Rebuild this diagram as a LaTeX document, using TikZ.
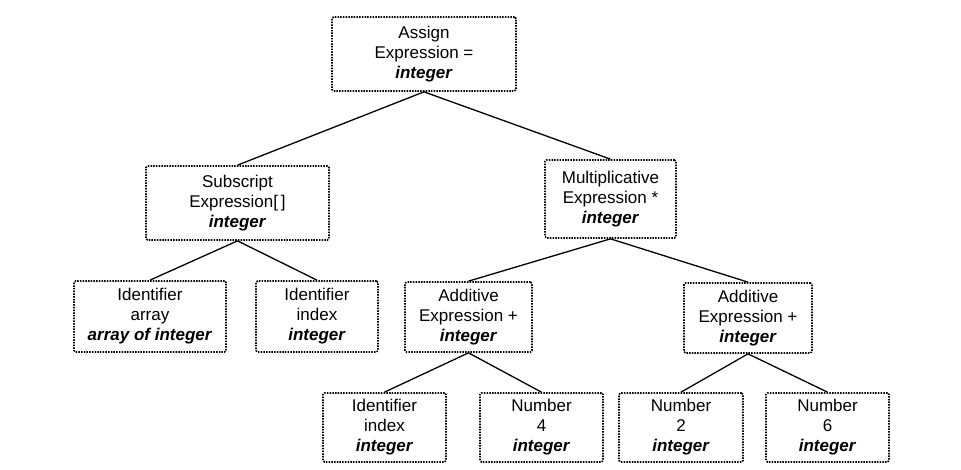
\documentclass[tikz,border=0pt]{standalone}
\usepackage{fontspec}
\setmainfont{Liberation Sans}
\newcommand\typ[1]{\textbf{\textit{#1}}}
\tikzset{
  box/.style={draw, line width=1.7pt, dash pattern=on 1.5pt off 1.2pt,
    rounded corners=1.5pt, align=center, inner sep=0pt,
    font=\fontsize{17}{20}\selectfont},
  edge/.style={line width=1.3pt},
}
\begin{document}
\begin{tikzpicture}[x=1pt,y=-1pt]
\useasboundingbox (0,0) rectangle (961,470);
\node[box, minimum width=184pt, minimum height=74pt] (root) at (424,54) {Assign\\Expression =\\\typ{integer}};
\node[box, minimum width=183pt, minimum height=74pt] (sub) at (237.5,203) {Subscript\\Expression[\,]\\\typ{integer}};
\node[box, minimum width=131pt, minimum height=78pt] (mult) at (610.5,199) {Multiplicative\\Expression *\\\typ{integer}};
\node[box, minimum width=152pt, minimum height=71pt] (iarr) at (150,316.5) {Identifier\\array\\\typ{array of integer}};
\node[box, minimum width=122pt, minimum height=71pt] (iidx) at (317,316.5) {Identifier\\index\\\typ{integer}};
\node[box, minimum width=127pt, minimum height=70pt] (addl) at (468.5,317) {Additive\\Expression +\\\typ{integer}};
\node[box, minimum width=128pt, minimum height=70pt] (addr) at (748,318) {Additive\\Expression +\\\typ{integer}};
\node[box, minimum width=123pt, minimum height=69pt] (iidxb) at (384.5,427.5) {Identifier\\index\\\typ{integer}};
\node[box, minimum width=123pt, minimum height=69pt] (nfour) at (541.5,427.5) {Number\\4\\\typ{integer}};
\node[box, minimum width=124pt, minimum height=69pt] (ntwo) at (681,427.5) {Number\\2\\\typ{integer}};
\node[box, minimum width=123pt, minimum height=69pt] (nsix) at (827.5,427.5) {Number\\6\\\typ{integer}};
\draw[edge] (root.south) -- (sub.north);
\draw[edge] (root.south) -- (mult.north);
\draw[edge] (sub.south) -- (iarr.north);
\draw[edge] (sub.south) -- (iidx.north);
\draw[edge] (mult.south) -- (addl.north);
\draw[edge] (mult.south) -- (addr.north);
\draw[edge] (addl.south) -- (iidxb.north);
\draw[edge] (addl.south) -- (nfour.north);
\draw[edge] (addr.south) -- (ntwo.north);
\draw[edge] (addr.south) -- (nsix.north);
\end{tikzpicture}
\end{document}
